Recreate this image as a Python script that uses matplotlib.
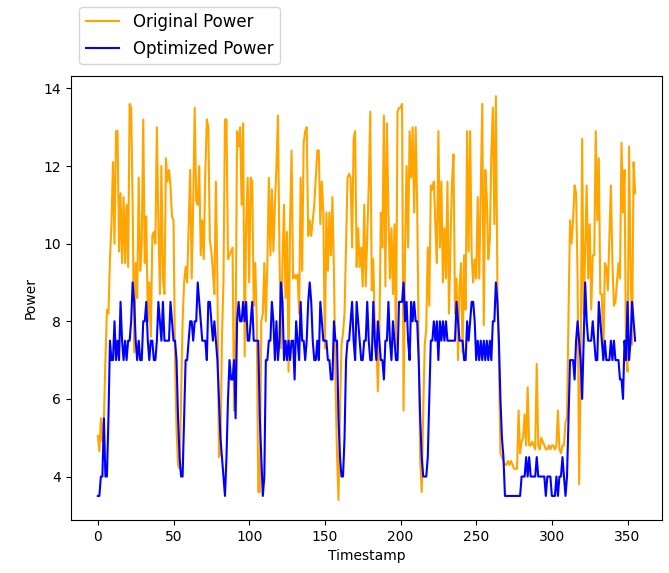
import matplotlib
matplotlib.use("Agg")
import matplotlib.pyplot as plt
import numpy as np

original_power = [
    5.05, 4.65, 5.5, 4.9, 5.5, 7.0, 8.3, 8.2, 9.6, 10.5,
    12.1, 10.0, 12.9, 12.9, 9.8, 11.3, 9.5, 11.2, 9.5, 11.0,
    9.4, 13.6, 13.5, 11.0, 7.2, 9.5, 8.6, 11.7, 9.3, 10.0,
    13.2, 9.5, 10.7, 8.0, 9.0, 7.6, 10.2, 10.3, 10.0, 13.0,
    10.5, 8.7, 12.0, 9.1, 8.7, 12.2, 11.6, 11.9, 11.5, 10.7,
    10.6, 7.0, 5.2, 4.3, 4.2, 6.0, 8.0, 9.0, 9.4, 9.0,
    10.4, 11.9, 9.1, 11.0, 13.5, 11.1, 11.0, 12.0, 9.7, 10.6,
    9.6, 11.8, 13.2, 13.0, 10.1, 9.8, 9.3, 8.7, 11.6, 9.1,
    4.5, 4.6, 7.6, 9.0, 13.2, 13.2, 9.6, 9.7, 9.8, 9.9,
    5.7, 7.5, 12.9, 12.5, 13.0, 11.0, 13.1, 7.1, 10.5, 11.7,
    9.0, 11.7, 11.6, 8.4, 9.5, 8.0, 3.6, 3.6, 8.0, 8.2,
    9.5, 8.0, 9.5, 11.7, 9.7, 11.4, 9.8, 11.0, 12.0, 13.3,
    9.8, 7.3, 9.5, 11.0, 8.6, 10.3, 6.7, 10.5, 12.4, 9.1,
    9.2, 9.1, 9.2, 8.2, 11.7, 9.3, 12.6, 12.9, 13.0, 10.2,
    10.6, 10.2, 10.6, 11.0, 11.7, 12.4, 12.4, 10.5, 11.6, 10.8,
    7.3, 10.8, 9.3, 10.8, 9.7, 11.2, 9.3, 6.5, 4.6, 3.4,
    5.7, 7.4, 7.7, 8.2, 9.9, 11.7, 11.8, 11.7, 9.9, 12.7,
    12.9, 9.4, 10.4, 9.4, 9.9, 8.9, 11.0, 8.9, 10.2, 11.5,
    13.4, 8.8, 9.6, 7.8, 7.6, 6.2, 7.6, 10.8, 9.9, 13.3,
    8.9, 13.1, 10.8, 9.1, 10.4, 8.7, 10.5, 7.3, 13.4, 13.5,
    13.5, 13.6, 5.7, 9.9, 12.0, 9.9, 12.9, 11.7, 13.0, 10.8,
    13.0, 11.0, 7.4, 4.4, 3.6, 5.7, 7.4, 7.8, 9.9, 8.4,
    11.5, 11.4, 11.6, 10.5, 9.5, 12.9, 9.9, 11.6, 9.0, 10.4,
    9.1, 11.6, 8.2, 10.0, 11.6, 12.3, 8.2, 9.1, 7.0, 8.9,
    9.5, 7.2, 9.7, 8.3, 12.9, 9.8, 12.9, 9.7, 9.0, 9.6,
    9.1, 11.2, 9.1, 11.4, 13.6, 7.9, 11.9, 11.2, 9.6, 10.1,
    12.3, 13.5, 10.5, 13.8, 9.0, 7.0, 4.6, 4.5, 4.4, 4.3,
    4.3, 4.4, 4.3, 4.4, 4.3, 4.2, 4.2, 4.2, 5.7, 4.6,
    4.9, 5.0, 5.6, 4.8, 6.3, 4.8, 4.8, 4.9, 4.8, 4.7,
    6.9, 4.8, 4.7, 5.0, 4.9, 4.8, 4.7, 4.7, 4.8, 4.7,
    4.8, 4.8, 4.7, 4.8, 5.7, 4.7, 4.6, 4.8, 4.8, 5.4,
    5.5, 8.2, 10.6, 10.0, 10.6, 11.5, 11.3, 9.1, 3.8, 6.5,
    12.7, 8.2, 9.9, 11.5, 9.1, 10.5, 8.3, 9.7, 9.7, 12.9,
    10.6, 12.2, 8.7, 8.7, 7.0, 9.5, 9.4, 8.8, 10.2, 11.5,
    9.5, 8.4, 8.5, 9.0, 9.5, 9.1, 12.6, 10.8, 11.9, 7.1,
    6.7, 12.5, 9.5, 7.4, 12.1, 11.3,
]

optimized_power = [
    3.5, 3.5, 4.0, 4.0, 5.5, 4.0, 4.0, 5.5, 7.5, 7.0,
    7.0, 8.0, 7.0, 7.5, 7.0, 8.5, 7.5, 7.0, 7.5, 7.0,
    7.5, 7.5, 8.0, 9.0, 8.5, 7.5, 7.0, 7.5,
    7.0, 7.0, 8.0, 8.0, 8.5, 7.5, 7.0, 7.5, 7.5, 7.0,
    7.0, 7.5, 8.5, 8.0, 7.5, 8.5, 7.5, 7.5, 7.5, 7.5,
    8.5, 8.0, 7.5, 7.5, 7.0, 5.5, 4.5, 4.0, 4.0, 5.5, 7.0,
    7.0, 7.5, 8.0, 8.0, 7.5, 8.0, 8.0, 9.0, 8.5, 8.0,
    7.5, 7.5, 7.5, 7.0, 8.5, 8.5, 8.0, 7.5, 8.0, 7.5,
    7.0, 6.0, 5.0, 4.5, 4.0, 3.5, 4.5, 6.0, 7.0, 6.5,
    6.5, 7.0, 5.5, 8.0, 8.5, 8.0, 8.0, 8.5, 8.0, 8.5,
    7.5, 7.5, 8.0, 8.5, 7.5, 7.5, 7.5, 7.5, 5.5, 4.5,
    3.5, 4.0, 7.0, 7.0, 7.5, 7.5, 8.5, 8.0, 7.0, 8.0,
    7.0, 7.5, 9.0, 8.5, 7.0, 7.5, 7.0, 7.5, 7.0, 7.5,
    7.5, 6.5, 8.0, 7.5, 7.0, 8.5, 7.5, 7.5, 7.0, 7.5,
    8.5, 9.0, 8.5, 7.5, 7.0, 7.0, 7.5, 7.0, 8.5, 8.0, 7.5,
    7.5, 7.5, 7.0, 7.0, 6.5, 6.5, 8.0, 7.5, 7.5, 5.5,
    4.5, 4.0, 4.0, 5.0, 7.0, 7.5, 7.5, 8.0, 8.5, 7.5,
    7.0, 8.5, 8.0, 7.5, 7.0, 7.0, 7.5, 7.5, 8.5, 7.5, 7.0,
    7.0, 8.5, 7.5, 7.0, 8.0, 7.5, 7.0, 7.0, 6.5, 7.5,
    7.5, 8.5, 7.5, 7.0, 8.0, 7.5, 7.0, 7.0, 8.5, 8.5,
    8.5, 9.0, 8.0, 8.5, 7.5, 7.0, 8.5, 8.0, 8.5, 8.0,
    8.0, 7.0, 5.5, 4.5, 4.0, 4.0, 4.0, 4.5, 6.0, 7.5,
    7.5, 8.0, 7.5, 8.0, 7.0, 8.0, 7.5, 8.0, 7.5, 8.0,
    7.5, 7.5, 7.5, 7.5, 7.5, 7.5, 8.5, 8.0, 7.5, 7.5,
    7.5, 7.0, 7.0, 8.0, 7.5, 8.0, 8.5, 8.5, 8.0, 7.0,
    7.5, 7.0, 7.5, 7.0, 7.5, 7.0, 7.5, 7.0, 7.5, 7.0,
    8.0, 8.0, 9.0, 8.5, 7.5, 6.0, 5.0, 4.5, 3.5, 3.5,
    3.5, 3.5, 3.5, 3.5, 3.5, 3.5, 3.5, 3.5, 3.5, 4.0,
    4.0, 4.0, 4.5, 4.0, 4.5, 4.0, 4.0, 4.0, 4.0, 4.5,
    4.0, 4.0, 4.0, 4.0, 4.0, 3.5, 4.0, 4.0, 4.0, 3.5, 3.5,
    3.5, 4.0, 3.5, 4.0, 4.0, 4.5, 4.0, 3.5, 4.0, 5.5,
    7.0, 7.0, 7.0, 6.5, 7.5, 8.0, 7.5, 7.0, 6.0, 7.5,
    9.0, 8.0, 7.5, 7.5, 7.5, 8.0, 7.5, 7.0, 7.0, 8.5, 8.0,
    7.5, 7.0, 7.5, 7.0, 7.0, 7.0, 7.5, 7.0, 7.5, 7.0,
    7.0, 7.0, 6.5, 6.5, 6.0, 7.5, 7.0, 8.5, 7.0, 7.5,
    8.5, 8.0, 7.5,
]

timestamps = np.arange(len(original_power))

fig = plt.figure(figsize=(6.69, 5.73), dpi=100)
ax = fig.add_axes([0.1061, 0.0925, 0.8834, 0.7749])
ax.plot(timestamps, original_power, color="orange", label="Original Power")
ax.plot(timestamps[:len(optimized_power)], optimized_power, color="blue", label="Optimized Power")
ax.set_xlabel("Timestamp")
ax.set_ylabel("Power")
ax.legend(loc="upper left", bbox_to_anchor=(0.0, 1.175), fontsize=12)
fig.savefig("out.png", dpi=100)
